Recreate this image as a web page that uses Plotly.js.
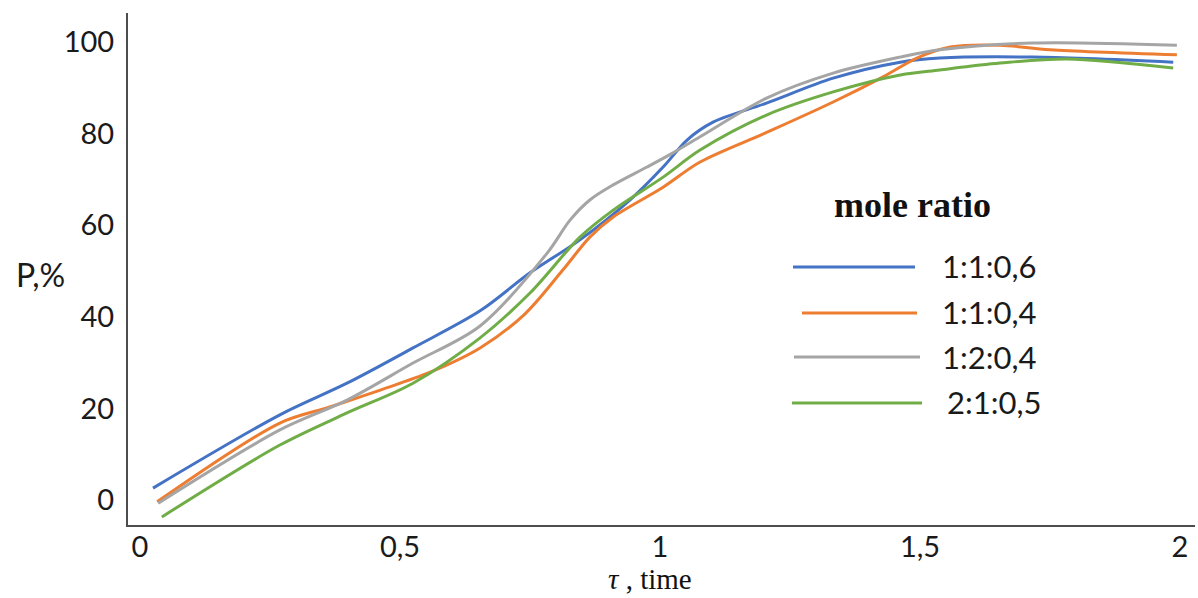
<!DOCTYPE html>
<html>
<head>
<meta charset="utf-8">
<script src="https://cdn.plot.ly/plotly-3.0.1.min.js"></script>
<style>html,body{margin:0;padding:0;background:#fff;}#chart{width:1198px;height:598px;}</style>
</head>
<body>
<div id="chart"></div>
<script>
// ---- data ----
const seriesNames = ["1:1:0,6", "1:1:0,4", "1:2:0,4", "2:1:0,5"];
const seriesColors = ["#4472C4", "#ED7D31", "#A5A5A5", "#70AD47"];

const xBlue = [0.025,0.269,0.398,0.525,0.654,0.75,0.846,0.942,1.006,1.052,1.102,1.206,1.333,1.462,1.538,1.717,1.987];
const yBlue = [2.6,18.6,25.5,33.2,41.3,49.6,56.8,65.5,72.7,78.6,82.5,86.7,92.1,95.6,96.5,96.7,95.6];

const xOrange = [0.033,0.269,0.365,0.462,0.558,0.654,0.74,0.813,0.865,0.91,1.006,1.077,1.206,1.333,1.429,1.494,1.558,1.654,1.75,1.994];
const yOrange = [-0.4,16.8,20.3,24.0,27.9,33.2,40.6,50.2,57.4,61.8,68.3,73.8,80.3,86.9,92.4,96.5,98.9,99.3,98.3,97.2];

const xGray = [0.035,0.269,0.398,0.525,0.654,0.783,0.827,0.865,0.91,0.975,1.025,1.077,1.206,1.333,1.462,1.538,1.717,1.994];
const yGray = [-0.7,15.3,21.8,29.9,38.0,53.9,61.1,65.5,68.8,72.7,75.8,79.3,87.8,93.2,96.7,98.3,99.8,99.3];

const xGreen = [0.042,0.269,0.398,0.525,0.654,0.75,0.846,0.91,1.006,1.077,1.206,1.333,1.462,1.538,1.654,1.783,1.987];
const yGreen = [-3.7,12.0,19.0,25.5,35.4,45.2,57.4,63.3,70.5,76.4,84.1,89.1,92.8,93.9,95.4,96.3,94.3];

const xTickVals = [0, 0.5, 1, 1.5, 2];
const xTickText = ["0", "0,5", "1", "1,5", "2"];
const yTickVals = [0, 20, 40, 60, 80, 100];

const xTitle = "<i>τ</i> , time";
const yTitle = "P,%";
const legendTitle = "<b>mole ratio</b>";

// ---- layout geometry ----
const W = 1198, H = 598;
const M = {l: 128, r: 3, t: 13, b: 73};
const pw = W - M.l - M.r, ph = H - M.t - M.b;
const px2paper = p => (p - M.l) / pw;
const py2paper = p => (H - M.b - p) / ph;

const xs = [xBlue, xOrange, xGray, xGreen];
const ys = [yBlue, yOrange, yGray, yGreen];

const traces = xs.map((x, i) => ({
  x: x, y: ys[i], name: seriesNames[i], type: "scatter", mode: "lines",
  line: {color: seriesColors[i], width: 3, shape: "spline", smoothing: 0.9},
  showlegend: false, hoverinfo: "skip"
}));

const sansFont = "Lato, 'Open Sans', sans-serif";
const serifFont = "'Liberation Serif', 'DejaVu Serif', serif";

// manual legend
const legLines = [
  {x0: 793, x1: 915, y: 267},
  {x0: 802, x1: 917, y: 313},
  {x0: 794, x1: 920, y: 357},
  {x0: 792, x1: 922, y: 403}
];
const legText = [
  {x: 940, y: 266},
  {x: 940, y: 312},
  {x: 940, y: 357},
  {x: 945, y: 402}
];

const shapes = legLines.map((l, i) => ({
  type: "line", xref: "paper", yref: "paper",
  x0: px2paper(l.x0), x1: px2paper(l.x1), y0: py2paper(l.y), y1: py2paper(l.y),
  line: {color: seriesColors[i], width: 3}
}));

const annotations = legText.map((t, i) => ({
  text: seriesNames[i], xref: "paper", yref: "paper",
  x: px2paper(t.x), y: py2paper(t.y), xanchor: "left", yanchor: "middle",
  showarrow: false, font: {family: sansFont, size: 31, color: "#1a1a1a"}
}));
annotations.push({
  text: legendTitle, xref: "paper", yref: "paper",
  x: px2paper(912), y: py2paper(205), xanchor: "center", yanchor: "middle",
  showarrow: false, font: {family: serifFont, size: 36, color: "#111"}
});
annotations.push({
  text: xTitle, xref: "paper", yref: "paper",
  x: px2paper(650), y: py2paper(579), xanchor: "center", yanchor: "middle",
  showarrow: false, borderpad: 0, font: {family: serifFont, size: 29, color: "#111"}
});
annotations.push({
  text: yTitle, xref: "paper", yref: "paper",
  x: px2paper(40), y: py2paper(274), xanchor: "center", yanchor: "middle",
  showarrow: false, font: {family: sansFont, size: 32, color: "#1a1a1a"}
});

const layout = {
  width: W, height: H,
  margin: M,
  paper_bgcolor: "#fff", plot_bgcolor: "#fff",
  showlegend: false,
  xaxis: {
    range: [(M.l - 140) / 520, (W - M.r - 140) / 520],
    tickvals: xTickVals, ticktext: xTickText,
    showgrid: false, zeroline: false, showline: true,
    linecolor: "#4d4d4d", linewidth: 2, ticks: "",
    ticklabelstandoff: -5,
    tickfont: {family: sansFont, size: 29, color: "#1a1a1a"}
  },
  yaxis: {
    range: [(500 - (H - M.b)) / 4.58, (500 - M.t) / 4.58],
    tickvals: yTickVals,
    showgrid: false, zeroline: false, showline: true,
    linecolor: "#4d4d4d", linewidth: 2, ticks: "",
    ticklabelstandoff: 6,
    tickfont: {family: sansFont, size: 29, color: "#1a1a1a"}
  },
  shapes: shapes,
  annotations: annotations
};

Plotly.newPlot("chart", traces, layout, {staticPlot: true, displayModeBar: false});
</script>
</body>
</html>
